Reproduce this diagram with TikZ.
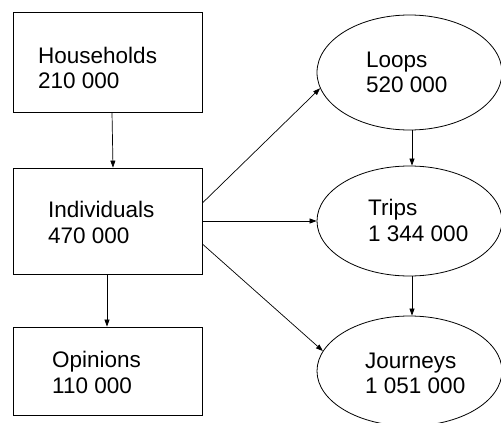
\documentclass[tikz,border=0pt]{standalone}
\usepackage{fontspec}
\setmainfont{Liberation Sans}
\usetikzlibrary{shapes.geometric,arrows.meta}
\begin{document}
\begin{tikzpicture}[x=1pt,y=-1pt,
  box/.style={draw,line width=0.8pt,rectangle,inner sep=0pt,minimum width=189pt},
  oval/.style={draw,line width=0.8pt,ellipse,inner sep=0pt,minimum width=185pt},
  lbl/.style={anchor=base west,inner sep=0pt,font=\fontsize{22.5}{25}\selectfont},
  arr/.style={line width=0.7pt,-{Triangle[length=7pt,width=5pt]}}]
\useasboundingbox (0,0) rectangle (501,423);
\node[box,minimum height=100pt] (hh) at (107.5,62) {};
\node[box,minimum height=106pt] (ind) at (107.5,221) {};
\node[box,minimum height=88pt] (op) at (107.5,371) {};
\node[oval,minimum height=115pt] (loops) at (409.5,72.5) {};
\node[oval,minimum height=110pt] (trips) at (409.5,221) {};
\node[oval,minimum height=110pt] (jour) at (409.5,371) {};
\node[lbl] (hhA) at (38,63) {Households};
\node[lbl] (hhB) at (38,88) {210 000};
\node[lbl] (indA) at (48,217) {Individuals};
\node[lbl] (indB) at (48,243) {470 000};
\node[lbl] (opA) at (52,367) {Opinions};
\node[lbl] (opB) at (52,393) {110 000};
\node[lbl] (loA) at (366,67) {Loops};
\node[lbl] (loB) at (366,92) {520 000};
\node[lbl] (trA) at (368,215) {Trips};
\node[lbl] (trB) at (368,241) {1 344 000};
\node[lbl] (joA) at (365,368) {Journeys};
\node[lbl] (joB) at (365,393) {1 051 000};
\draw[arr] ([xshift=4.5pt]hh.south) -- ([xshift=5.5pt]ind.north);
\draw[arr] ([xshift=-0.5pt]ind.south) -- ([xshift=-0.5pt]op.north);
\draw[arr] ([yshift=18pt]ind.east) -- (loops.190);
\draw[arr] (ind.east) -- (trips.west);
\draw[arr] ([yshift=-23pt]ind.east) -- (jour.167);
\draw[arr] ([xshift=2.5pt]loops.south) -- ([xshift=2.5pt]trips.north);
\draw[arr] ([xshift=2.5pt]trips.south) -- ([xshift=2.5pt]jour.north);
\end{tikzpicture}
\end{document}
